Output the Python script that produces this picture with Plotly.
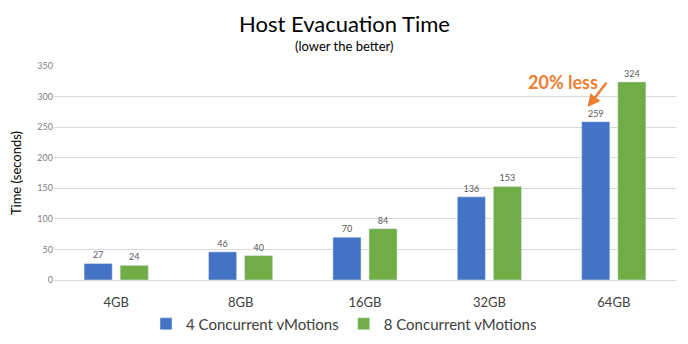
import plotly.graph_objects as go

categories = ["4GB", "8GB", "16GB", "32GB", "64GB"]
four_concurrent = [27, 46, 70, 136, 259]
eight_concurrent = [24, 40, 84, 153, 324]
series_names = ["4 Concurrent vMotions", "8 Concurrent vMotions"]
y_ticks = [0, 50, 100, 150, 200, 250, 300, 350]

FONT = "Lato, 'Open Sans', sans-serif"
WIDTH, LEFT, RIGHT = 688, 54, 12
TOP, BOTTOM, HEIGHT = 66, 64, 344
PLOT_H = HEIGHT - TOP - BOTTOM
PLOT_W = WIDTH - LEFT - RIGHT


def paper_y(px):
    """Convert a pixel row (from the top) to paper coordinates."""
    return (HEIGHT - BOTTOM - px) / PLOT_H


def paper_x(px):
    """Convert a pixel column (from the left) to paper coordinates."""
    return (px - LEFT) / PLOT_W


fig = go.Figure()
for name, vals, color in [
    (series_names[0], four_concurrent, "#4472C4"),
    (series_names[1], eight_concurrent, "#70AD47"),
]:
    fig.add_trace(go.Bar(
        x=categories, y=vals, name=name, marker_color=color,
        text=[str(v) for v in vals], textposition="outside",
        textfont=dict(size=9, color="#595959", family=FONT),
        cliponaxis=False,
    ))

# callout arrow pointing at the 64GB / 4 vMotions bar
fig.add_annotation(
    x=3.79, y=283, xref="x", yref="y",
    ax=3.95, ay=325, axref="x", ayref="y",
    text="", showarrow=True, arrowhead=2, arrowsize=1, arrowwidth=2.5,
    arrowcolor="#ED7D31",
)
fig.add_annotation(
    x=3.59, y=324, xref="x", yref="y", showarrow=False,
    text="<b>20% less</b>", font=dict(size=18, color="#ED7D31", family=FONT),
)

# title and subtitle, centred on the whole figure
fig.add_annotation(
    x=paper_x(WIDTH / 2), y=paper_y(23), xref="paper", yref="paper", showarrow=False,
    text="Host Evacuation Time", font=dict(size=22, color="#000000", family=FONT),
    yanchor="middle",
)
fig.add_annotation(
    x=paper_x(WIDTH / 2), y=paper_y(46), xref="paper", yref="paper", showarrow=False,
    text="(lower the better)", font=dict(size=13, color="#000000", family=FONT),
    yanchor="middle",
)

fig.update_layout(
    width=WIDTH, height=HEIGHT,
    margin=dict(l=LEFT, r=RIGHT, t=TOP, b=BOTTOM, autoexpand=False),
    paper_bgcolor="white", plot_bgcolor="white",
    barmode="group", bargap=0.42, bargroupgap=0.22,
    xaxis=dict(
        tickfont=dict(size=13, color="#404040", family=FONT),
        showline=True, linecolor="#D9D9D9", ticks="", ticklabelstandoff=10,
    ),
    yaxis=dict(
        range=[0, 350], tickvals=y_ticks,
        tickfont=dict(size=9, color="#7F7F7F", family=FONT),
        gridcolor="#D9D9D9", zeroline=False,
        title=dict(text="Time (seconds)", font=dict(size=13, color="#000000", family=FONT), standoff=12),
    ),
    legend=dict(
        orientation="h", x=paper_x(WIDTH / 2), xanchor="center",
        y=paper_y(324), yanchor="middle",
        font=dict(size=15, color="#404040", family=FONT),
        itemwidth=30, traceorder="normal",
    ),
    font=dict(family=FONT),
)

fig.write_html("out.html")
